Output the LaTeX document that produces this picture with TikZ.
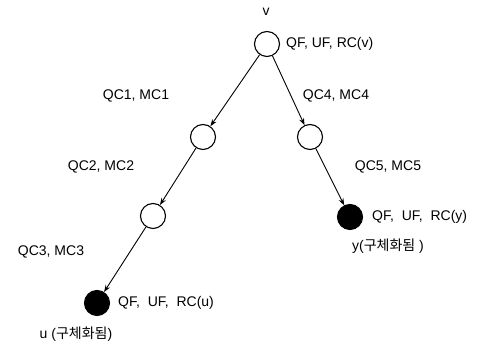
\documentclass[tikz,border=0pt]{standalone}
\usepackage{fontspec}
\setmainfont{Liberation Sans}
\newfontfamily\kr{Noto Sans CJK KR}
\usetikzlibrary{arrows.meta}
\begin{document}
\begin{tikzpicture}[x=1pt,y=-1pt,
  vtx/.style={circle,draw,line width=1.1pt,minimum size=25pt,inner sep=0pt},
  mat/.style={vtx,fill=black},
  lbl/.style={font=\fontsize{14}{16}\selectfont,inner sep=0pt},
  edge/.style={line width=0.9pt,-{Stealth[length=7pt,width=5pt]}}]
\useasboundingbox (0,0) rectangle (491,352);
\node[vtx] (v) at (267,44) {};
\node[vtx] (a) at (203,137) {};
\node[vtx] (b) at (153,216) {};
\node[mat] (u) at (97,303) {};
\node[vtx] (c) at (310,137) {};
\node[mat] (y) at (350,217) {};
\draw[edge] (v) -- (a);
\draw[edge] (a) -- (b);
\draw[edge] (b) -- (u);
\draw[edge] (v) -- (c);
\draw[edge] (c) -- (y);
\node[lbl] (tv) at (266,12) {v};
\node[lbl,anchor=west] (fv) at (286,44) {QF, UF, RC(v)};
\node[lbl] (e1) at (136,96) {QC1, MC1};
\node[lbl] (e4) at (336,96) {QC4, MC4};
\node[lbl] (e2) at (101,167) {QC2, MC2};
\node[lbl] (e5) at (388,167) {QC5, MC5};
\node[lbl] (e3) at (51,252) {QC3, MC3};
\node[lbl,anchor=west] (fy) at (372,217) {QF,\ \ UF,\ \ RC(y)};
\node[lbl,anchor=west] (fu) at (118,303) {QF,\ \ UF,\ \ RC(u)};
\node[lbl] (ty) at (388,246) {y({\kr 구체화됨} )};
\node[lbl] (tu) at (76,334) {u ({\kr 구체화됨})};
\end{tikzpicture}
\end{document}
